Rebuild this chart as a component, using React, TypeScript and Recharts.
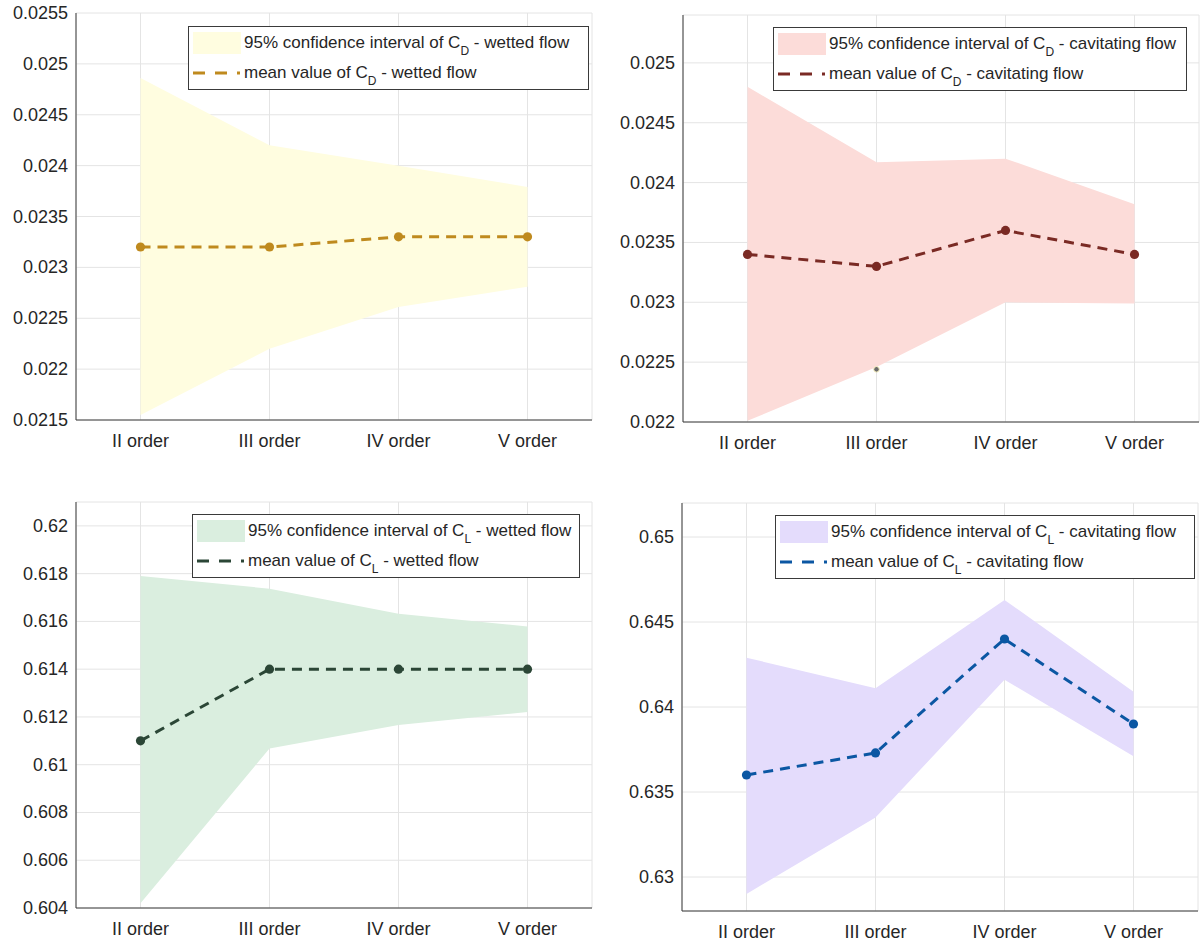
import React from "react";
import {
  ComposedChart,
  Area,
  Line,
  XAxis,
  YAxis,
  CartesianGrid,
  Legend,
} from "recharts";

// ---------- data ----------
const orders = ["II order", "III order", "IV order", "V order"];
const orderPos = [1, 2, 3, 4];

const cdWetMean = [0.0232, 0.0232, 0.0233, 0.0233];
const cdWetLow = [0.02155, 0.0222, 0.02261, 0.02281];
const cdWetHigh = [0.02486, 0.0242, 0.024, 0.02379];
const cdWetTicks = [0.0215, 0.022, 0.0225, 0.023, 0.0235, 0.024, 0.0245, 0.025, 0.0255];

const cdCavMean = [0.0234, 0.0233, 0.0236, 0.0234];
const cdCavLow = [0.02201, 0.02246, 0.023, 0.02299];
const cdCavHigh = [0.0248, 0.02417, 0.0242, 0.02382];
const cdCavStray = [null, 0.02244, null, null];
const cdCavTicks = [0.022, 0.0225, 0.023, 0.0235, 0.024, 0.0245, 0.025];

const clWetMean = [0.611, 0.614, 0.614, 0.614];
const clWetLow = [0.6042, 0.61068, 0.61166, 0.61221];
const clWetHigh = [0.6179, 0.61737, 0.61632, 0.61579];
const clWetTicks = [0.604, 0.606, 0.608, 0.61, 0.612, 0.614, 0.616, 0.618, 0.62];

const clCavMean = [0.636, 0.6373, 0.644, 0.639];
const clCavLow = [0.629, 0.6335, 0.6416, 0.6371];
const clCavHigh = [0.6429, 0.6411, 0.6463, 0.6409];
const clCavTicks = [0.63, 0.635, 0.64, 0.645, 0.65];

// ---------- styling ----------
const FONT = '"Liberation Sans", Arial, Helvetica, sans-serif';
const TEXT = "#262626";
const FRAME = "#3a3a3a";
const GRID = "#e4e4e4";

type PanelCfg = {
  left: number;
  top: number;
  w: number;
  h: number;
  mt: number;
  mr: number;
  yw: number;
  xh: number;
  domain: [number, number];
  ticks: number[];
  mean: number[];
  low: number[];
  high: number[];
  stray?: (number | null)[];
  fill: string;
  line: string;
  coef: string;
  flow: string;
  lgLeft: number;
  lgTop: number;
  lgW: number;
};

function LegendBox({ cfg }: { cfg: PanelCfg }) {
  const H = 64;
  return (
    <svg width={cfg.lgW} height={H} style={{ display: "block", fontFamily: FONT }}>
      <rect x={0.5} y={0.5} width={cfg.lgW - 1} height={H - 1} fill="#fff" stroke={FRAME} strokeWidth={1} />
      <rect x={5} y={6} width={48} height={22} fill={cfg.fill} />
      <line x1={5} y1={47} x2={52} y2={47} stroke={cfg.line} strokeWidth={3} strokeDasharray="12 10" />
      <text x={56} y={22} fontSize={17} fill={TEXT}>
        95% confidence interval of C
        <tspan fontSize={12} dy={7}>{cfg.coef}</tspan>
        <tspan dy={-7}>{" - " + cfg.flow + " flow"}</tspan>
      </text>
      <text x={56} y={52} fontSize={17} fill={TEXT}>
        mean value of C
        <tspan fontSize={12} dy={7}>{cfg.coef}</tspan>
        <tspan dy={-7}>{" - " + cfg.flow + " flow"}</tspan>
      </text>
    </svg>
  );
}

const emptyTick = () => <g />;

function Panel({ cfg }: { cfg: PanelCfg }) {
  const data = orders.map((name, i) => ({
    x: orderPos[i],
    name,
    band: [cfg.low[i], cfg.high[i]],
    mean: cfg.mean[i],
    stray: cfg.stray ? cfg.stray[i] : null,
  }));

  const xTick = (p: any) => (
    <text x={p.x} y={p.y + 27} textAnchor="middle" fontSize={18} fill={TEXT} fontFamily={FONT}>
      {orders[orderPos.indexOf(p.payload.value)]}
    </text>
  );
  const yTick = (p: any) => (
    <text x={p.x - 8} y={p.y + 6} textAnchor="end" fontSize={18} fill={TEXT} fontFamily={FONT}>
      {String(p.payload.value)}
    </text>
  );
  const meanDot = (p: any) => {
    if (p.cy == null || Number.isNaN(p.cy)) return <g key={"d" + p.index} />;
    return <circle key={"d" + p.index} cx={p.cx} cy={p.cy} r={4.6} fill={cfg.line} />;
  };
  const strayDot = (p: any) => {
    if (p.cy == null || Number.isNaN(p.cy) || p.value == null) return <g key={"s" + p.index} />;
    return <circle key={"s" + p.index} cx={p.cx} cy={p.cy} r={2.8} fill="#6b6b6b" stroke="#fff8c8" strokeWidth={1} />;
  };

  return (
    <div style={{ position: "absolute", left: cfg.left, top: cfg.top, width: cfg.w, height: cfg.h }}>
      <ComposedChart
        width={cfg.w}
        height={cfg.h}
        data={data}
        margin={{ top: cfg.mt, right: cfg.mr, bottom: 0, left: 0 }}
      >
        <CartesianGrid stroke={GRID} strokeWidth={1} />
        <XAxis
          dataKey="x"
          type="number"
          domain={[0.5, 4.5]}
          ticks={orderPos}
          interval={0}
          allowDataOverflow
          height={cfg.xh}
          tickLine={false}
          tickSize={0}
          tickMargin={0}
          tick={xTick}
          axisLine={{ stroke: FRAME, strokeWidth: 1 }}
        />
        <XAxis
          xAxisId="xb"
          dataKey="x"
          type="number"
          orientation="bottom"
          mirror
          domain={[0.5, 4.5]}
          ticks={orderPos}
          interval={0}
          allowDataOverflow
          height={0}
          tickSize={5}
          tick={emptyTick}
          tickLine={{ stroke: FRAME }}
          axisLine={false}
        />
        <XAxis
          xAxisId="xt"
          dataKey="x"
          type="number"
          orientation="top"
          mirror
          domain={[0.5, 4.5]}
          ticks={orderPos}
          interval={0}
          allowDataOverflow
          height={0}
          tickSize={5}
          tick={emptyTick}
          tickLine={{ stroke: FRAME }}
          axisLine={{ stroke: FRAME, strokeWidth: 1 }}
        />
        <YAxis
          type="number"
          domain={cfg.domain}
          ticks={cfg.ticks}
          interval={0}
          allowDataOverflow
          width={cfg.yw}
          tickLine={false}
          tickSize={0}
          tickMargin={0}
          tick={yTick}
          axisLine={{ stroke: FRAME, strokeWidth: 1 }}
        />
        <YAxis
          yAxisId="yl"
          type="number"
          orientation="left"
          mirror
          domain={cfg.domain}
          ticks={cfg.ticks}
          interval={0}
          allowDataOverflow
          width={0}
          tickSize={5}
          tick={emptyTick}
          tickLine={{ stroke: FRAME }}
          axisLine={false}
        />
        <YAxis
          yAxisId="yr"
          type="number"
          orientation="right"
          mirror
          domain={cfg.domain}
          ticks={cfg.ticks}
          interval={0}
          allowDataOverflow
          width={0}
          tickSize={5}
          tick={emptyTick}
          tickLine={{ stroke: FRAME }}
          axisLine={{ stroke: FRAME, strokeWidth: 1 }}
        />
        <Area
          dataKey="band"
          type="linear"
          stroke="none"
          fill={cfg.fill}
          fillOpacity={1}
          isAnimationActive={false}
          activeDot={false}
        />
        <Line
          dataKey="mean"
          type="linear"
          stroke={cfg.line}
          strokeWidth={3}
          strokeDasharray="10 7"
          dot={meanDot}
          activeDot={false}
          isAnimationActive={false}
        />
        {cfg.stray ? (
          <Line
            dataKey="stray"
            type="linear"
            stroke="none"
            dot={strayDot}
            activeDot={false}
            isAnimationActive={false}
          />
        ) : null}
        <Legend
          layout="vertical"
          align="center"
          verticalAlign="middle"
          wrapperStyle={{ position: "absolute", left: cfg.lgLeft, top: cfg.lgTop, width: cfg.lgW, height: 64 }}
          content={() => <LegendBox cfg={cfg} />}
        />
      </ComposedChart>
    </div>
  );
}

const panels: PanelCfg[] = [
  {
    left: 0, top: 0, w: 600, h: 470, mt: 13, mr: 8, yw: 76, xh: 50,
    domain: [0.0215, 0.0255], ticks: cdWetTicks,
    mean: cdWetMean, low: cdWetLow, high: cdWetHigh,
    fill: "#fffde0", line: "#bf8a1e", coef: "D", flow: "wetted",
    lgLeft: 188, lgTop: 26, lgW: 401,
  },
  {
    left: 600, top: 0, w: 600, h: 470, mt: 15, mr: 1, yw: 83, xh: 48,
    domain: [0.022, 0.0254], ticks: cdCavTicks,
    mean: cdCavMean, low: cdCavLow, high: cdCavHigh, stray: cdCavStray,
    fill: "#fcdcd9", line: "#7a2a24", coef: "D", flow: "cavitating",
    lgLeft: 173, lgTop: 27, lgW: 414,
  },
  {
    left: 0, top: 470, w: 600, h: 472, mt: 32, mr: 8, yw: 76, xh: 34,
    domain: [0.604, 0.621], ticks: clWetTicks,
    mean: clWetMean, low: clWetLow, high: clWetHigh,
    fill: "#daeedf", line: "#2b4636", coef: "L", flow: "wetted",
    lgLeft: 192, lgTop: 44, lgW: 388,
  },
  {
    left: 600, top: 470, w: 600, h: 472, mt: 33, mr: 2, yw: 82, xh: 31,
    domain: [0.628, 0.652], ticks: clCavTicks,
    mean: clCavMean, low: clCavLow, high: clCavHigh,
    fill: "#e4dcfc", line: "#0b57a3", coef: "L", flow: "cavitating",
    lgLeft: 175, lgTop: 45, lgW: 420,
  },
];

export default function App() {
  return (
    <div
      style={{
        position: "absolute",
        left: 0,
        top: 0,
        width: 1200,
        height: 942,
        background: "#fff",
        fontFamily: FONT,
        overflow: "hidden",
      }}
    >
      {panels.map((cfg, i) => (
        <Panel key={i} cfg={cfg} />
      ))}
    </div>
  );
}
